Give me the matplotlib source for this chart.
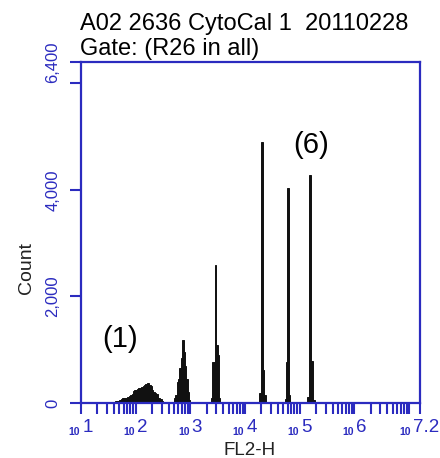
import matplotlib
matplotlib.use("Agg")
import matplotlib.pyplot as plt
import numpy as np

# ---- data (log10 of FL2-H bin start, counts per bin) ----
bin_width_log10 = 0.025
peak1_start = 1.575
peak1_counts = [20, 25, 30, 40, 45, 55, 80, 85, 90, 95, 100, 120, 135, 150, 165,
                220, 235, 250, 260, 275, 290, 300, 315, 330, 360, 375, 370, 330,
                310, 240, 210, 190, 170, 100, 85, 70, 40]
peak2_start = 2.700
peak2_counts = [100, 150, 400, 450, 650, 850, 1180, 950, 700, 450, 200, 60]
peak3_start = 3.375
peak3_counts = [100, 770, 770, 2590, 1090, 900, 100]
peak4_start = 4.250
peak4_counts = [190, 190, 4900, 620, 150]
peak5_start = 4.725
peak5_counts = [80, 770, 4030, 150]
peak6_start = 5.125
peak6_counts = [110, 110, 4280, 790, 790, 60]

peaks = [(peak1_start, peak1_counts), (peak2_start, peak2_counts),
         (peak3_start, peak3_counts), (peak4_start, peak4_counts),
         (peak5_start, peak5_counts), (peak6_start, peak6_counts)]

y_ticks = [0, 2000, 4000, 6000, 6400]
y_ticklabels = ["0", "2,000", "4,000", "", "6,400"]
x_label_exps = ["1", "2", "3", "4", "5", "6", "7.2"]
x_label_pos = [1, 2, 3, 4, 5, 6, 7.05]

title1 = "A02 2636 CytoCal 1  20110228"
title2 = "Gate: (R26 in all)"

BLUE = "#2b2bbf"
FONT = ["Liberation Sans", "DejaVu Sans"]
plt.rcParams["font.family"] = FONT

fig = plt.figure(figsize=(4.4, 4.58), dpi=100)
ax = fig.add_axes([81/440, 1-403/458, 339/440, 341/458])
ax.set_xscale("log")
ax.set_xlim(10**1, 10**7.2)
ax.set_ylim(0, 6400)

for start, counts in peaks:
    n = len(counts)
    lefts = start + bin_width_log10*np.arange(n)
    x0 = 10**lefts
    x1 = 10**(lefts + bin_width_log10)
    ax.bar(x0, counts, width=x1 - x0, align="edge", color="#111111",
           edgecolor="#111111", linewidth=0.7)

for s in ax.spines.values():
    s.set_color(BLUE)
    s.set_linewidth(1.6)

ax.set_yticks(y_ticks)
ax.set_yticklabels(y_ticklabels, rotation=90, va="center", color=BLUE, fontsize=12)
ax.tick_params(axis="y", direction="out", length=8, width=1.5, color=BLUE, pad=7)

major = [10**k for k in range(1, 8)] + [10**7.2]
ax.set_xticks(major)
ax.set_xticklabels([])
ax.xaxis.set_minor_locator(matplotlib.ticker.LogLocator(base=10, subs=np.arange(2, 10), numticks=20))
ax.xaxis.set_minor_formatter(matplotlib.ticker.NullFormatter())
ax.tick_params(axis="x", which="both", direction="out", length=8, width=1.5, color=BLUE)

for e, p in zip(x_label_exps, x_label_pos):
    ax.annotate("10", xy=(10**p, 0), xycoords=("data", "axes fraction"),
                xytext=(-0.5, -23), textcoords="offset points", ha="right",
                va="baseline", fontsize=7.5, color=BLUE, fontweight="bold")
    ax.annotate(e, xy=(10**p, 0), xycoords=("data", "axes fraction"),
                xytext=(1, -21), textcoords="offset points", ha="left",
                va="baseline", fontsize=13.5, color=BLUE)

fig.text(80/440, 1-30/458, title1, fontsize=17, ha="left", va="baseline")
fig.text(80/440, 1-55/458, title2, fontsize=17, ha="left", va="baseline")
fig.text(250/440, 1-455/458, "FL2-H", fontsize=13.5, ha="center", va="baseline", color="#222222")
fig.text(27/440, 1-268/458, "Count", fontsize=14, rotation=90, ha="center", va="center", color="#222222")

ax.text(0.115, 0.188, "(1)", transform=ax.transAxes, fontsize=21, ha="center", va="center")
ax.text(0.678, 0.757, "(6)", transform=ax.transAxes, fontsize=21, ha="center", va="center")

fig.savefig("out.png", dpi=100)
